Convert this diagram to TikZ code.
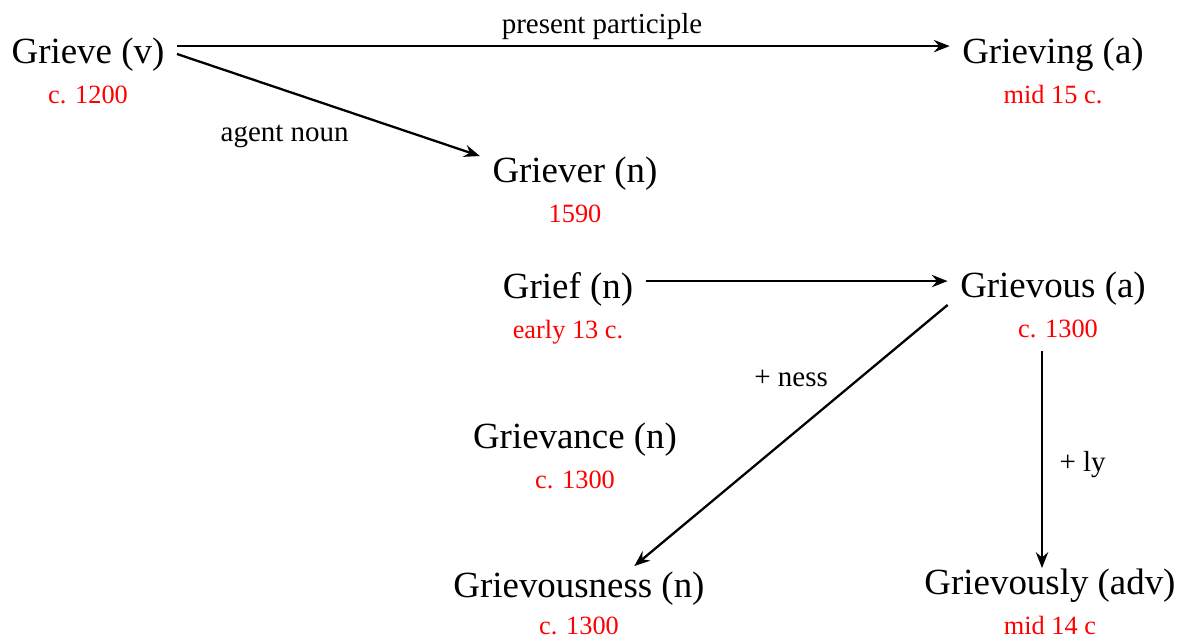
\documentclass[tikz,border=0pt]{standalone}
\usepackage{fontspec}
\setmainfont{Liberation Serif}
\usetikzlibrary{arrows.meta, positioning, calc}
\definecolor{cDate}{RGB}{255,0,0}

\begin{document}
\begin{tikzpicture}[
  x=0.02cm, y=-0.02cm,
  %% headword (large, black)
  word/.style={
    font=\fontsize{21}{25}\selectfont,
    inner xsep=7pt, inner ysep=0pt,
    text height=14.7pt, text depth=4.2pt
  },
  %% first-attestation date (red, below headword)
  date/.style={
    font=\fontsize{15}{18}\selectfont, text=cDate,
    inner sep=0pt, text height=10.5pt, text depth=3pt
  },
  %% derivation label on an arrow
  lab/.style={
    font=\fontsize{16.5}{20}\selectfont,
    text height=11.5pt, text depth=3.3pt
  },
  arr/.style={
    -{Stealth[length=9pt,width=7pt,inset=3pt]}, line width=1.3pt
  },
]

%% ── Canvas ───────────────────────────────────────────────────────────────────
\useasboundingbox (0,0) rectangle (1181,641);

%% ── Headwords ────────────────────────────────────────────────────────────────
\node[word] (grieve)       at (88,54)   {Grieve (v)};
\node[word] (grieving)     at (1053,54) {Grieving (a)};
\node[word] (griever)      at (575,173) {Griever (n)};
\node[word] (grief)        at (568,289) {Grief (n)};
\node[word] (grievous)     at (1053,288) {Grievous (a)};
\node[word] (grievance)    at (575,439) {Grievance (n)};
\node[word] (grievousness) at (579,588) {Grievousness (n)};
\node[word] (grievously)   at (1050,585) {Grievously (adv)};

%% ── Dates ────────────────────────────────────────────────────────────────────
\node[date, below=8pt of grieve]       (grieveD)       {c. 1200};
\node[date, below=8pt of grieving]     (grievingD)     {mid 15 c.};
\node[date, below=8pt of griever]      (grieverD)      {1590};
\node[date, below=8pt of grief]        (griefD)        {early 13 c.};
\node[date, below=8pt of grievous, xshift=0.1cm] (grievousD) {c. 1300};
\node[date, below=8pt of grievance]    (grievanceD)    {c. 1300};
\node[date, below=6pt of grievousness] (grievousnessD) {c. 1300};
\node[date, below=8pt of grievously]   (grievouslyD)   {mid 14 c};

%% ── Derivations ──────────────────────────────────────────────────────────────
\draw[arr] ([yshift=4.5pt]grieve.east) -- ([yshift=4.5pt]grieving.west)
  node[lab, pos=0.55, above] {present participle};

\draw[arr] (grieve.east) -- (griever.north west)
  node[lab, pos=0.59, below left] {agent noun};

\draw[arr] ([yshift=4.5pt]grief.east) -- ([yshift=4.5pt]grief.east -| grievous.west);

%% end point a little right of the top centre of Grievousness
\draw[arr] (grievous.south west)
  -- ($(grievousness.north)!0.4!(grievousness.north east)+(0,-5)$)
  node[lab, pos=0.36, above left] {+ ness};

\coordinate (lyTop) at ([xshift=-0.32cm, yshift=-0.16cm]grievousD.south);
\draw[arr] (lyTop) -- (lyTop |- grievously.north)
  node[lab, pos=0.52, right=6pt] {+ ly};

\end{tikzpicture}
\end{document}
